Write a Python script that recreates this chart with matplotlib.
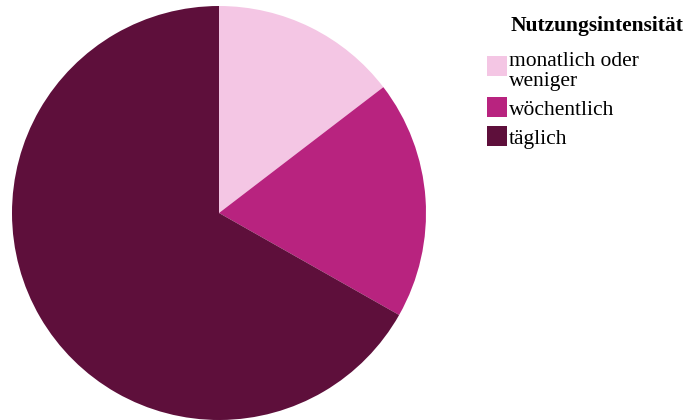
import matplotlib.pyplot as plt
from matplotlib.patches import Rectangle

plt.rcParams['font.family'] = ['Liberation Serif', 'DejaVu Serif']

# Anteile je Nutzungsintensität (%)
labels = ['monatlich oder\nweniger', 'wöchentlich', 'täglich']
values = [14.6, 18.6, 66.8]
colors = ['#F4C6E4', '#B8237F', '#5E0F3B']
legend_title = 'Nutzungsintensität'

W, H = 686, 420
fig = plt.figure(figsize=(W / 100, H / 100), dpi=100)

# Kreis: Mittelpunkt und Radius in Pixel
cx, cy, r = 219, 213, 207
ax = fig.add_axes([(cx - r) / W, (H - cy - r) / H, 2 * r / W, 2 * r / H])
wedges, _ = ax.pie(values, colors=colors, startangle=90, counterclock=False,
                   radius=1, wedgeprops=dict(linewidth=0))
ax.set_xlim(-1, 1)
ax.set_ylim(-1, 1)
ax.set_aspect('equal')
ax.axis('off')

def px(x, y):
    return x / W, 1 - y / H

# Legende von Hand (Pixelkoordinaten, y von oben)
fs = 15.5
line_h = 20
fig.text(*px(511, 31), legend_title, fontsize=fs, fontweight='bold',
         va='baseline', ha='left')
y_base = 66
for lab, col in zip(labels, colors):
    lines = lab.split('\n')
    n = len(lines)
    # Kästchen mittig zur ersten Zeile bzw. zum Eintrag
    box_top = y_base - 10 if n > 1 else y_base - 18
    fig.add_artist(Rectangle(px(487, box_top + 20), 20 / W, 20 / H,
                             transform=fig.transFigure, color=col, lw=0))
    for i, ln in enumerate(lines):
        fig.text(*px(509, y_base + i * line_h), ln, fontsize=fs,
                 va='baseline', ha='left')
    y_base += (n - 1) * line_h + 29

fig.savefig('out.png', dpi=100)
